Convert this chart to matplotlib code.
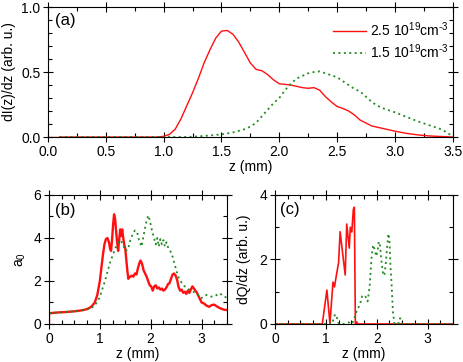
import numpy as np
import matplotlib.pyplot as plt
from matplotlib.ticker import MultipleLocator

plt.rcParams['font.family'] = ['Liberation Sans', 'DejaVu Sans']
plt.rcParams['font.size'] = 10
plt.rcParams['mathtext.default'] = 'regular'

RED = '#ff1010'
GREEN = '#228b22'

# panel (a): dI(z)/dz for the two densities
za_red = [0.1, 0.95, 1.0, 1.05, 1.1, 1.15, 1.2, 1.25, 1.3, 1.35,
          1.4, 1.45, 1.5, 1.55, 1.6, 1.65, 1.7, 1.75, 1.8, 1.85,
          1.9, 1.95, 2.0, 2.1, 2.2, 2.25, 2.3, 2.35, 2.4, 2.45,
          2.5, 2.55, 2.6, 2.65, 2.7, 2.8, 2.9, 3.0, 3.1, 3.2,
          3.3, 3.4, 3.5]
Ia_red = [0, 0, 0.005, 0.02, 0.06, 0.14, 0.24, 0.34, 0.45, 0.57,
          0.67, 0.76, 0.815, 0.82, 0.79, 0.73, 0.65, 0.57, 0.52, 0.51,
          0.48, 0.44, 0.41, 0.4, 0.38, 0.375, 0.38, 0.36, 0.31, 0.27,
          0.235, 0.22, 0.2, 0.17, 0.13, 0.085, 0.065, 0.045, 0.028, 0.016,
          0.008, 0.004, 0.0]

za_green = [0.1, 1.2, 1.3, 1.4, 1.5, 1.6, 1.7, 1.75, 1.8, 1.85,
            1.9, 1.95, 2.0, 2.05, 2.1, 2.15, 2.2, 2.25, 2.3, 2.35,
            2.4, 2.45, 2.5, 2.55, 2.6, 2.65, 2.7, 2.75, 2.8, 2.85,
            2.9, 3.0, 3.1, 3.2, 3.3, 3.4, 3.45, 3.5]
Ia_green = [0, 0, 0.005, 0.012, 0.02, 0.035, 0.06, 0.08, 0.11, 0.16,
            0.21, 0.26, 0.3, 0.36, 0.41, 0.45, 0.47, 0.49, 0.5, 0.505,
            0.49, 0.475, 0.46, 0.43, 0.4, 0.37, 0.35, 0.31, 0.27, 0.24,
            0.22, 0.19, 0.155, 0.12, 0.09, 0.06, 0.035, 0.005]

# panel (b): a0 along z
zb_red = [0, 0, 0.1, 0.2, 0.3, 0.4, 0.5, 0.6, 0.7, 0.75,
          0.8, 0.85, 0.9, 0.95, 1.0, 1.03, 1.06, 1.09, 1.12, 1.15,
          1.18, 1.2, 1.22, 1.24, 1.26, 1.28, 1.30, 1.32, 1.34, 1.36,
          1.38, 1.40, 1.42, 1.44, 1.46, 1.48, 1.50, 1.52, 1.54, 1.56,
          1.58, 1.60, 1.63, 1.66, 1.69, 1.72, 1.75, 1.78, 1.80, 1.83,
          1.86, 1.89, 1.92, 1.95, 1.98, 2.01, 2.04, 2.07, 2.10, 2.13,
          2.16, 2.19, 2.22, 2.25, 2.28, 2.31, 2.34, 2.37, 2.40, 2.43,
          2.46, 2.49, 2.52, 2.55, 2.58, 2.61, 2.64, 2.67, 2.70, 2.73,
          2.76, 2.79, 2.82, 2.85, 2.88, 2.91, 2.94, 2.97, 3.00, 3.05,
          3.10, 3.15, 3.20, 3.25, 3.30, 3.35, 3.40, 3.45, 3.50]
a0_red = [0, 0.5, 0.52, 0.54, 0.55, 0.57, 0.59, 0.62, 0.66, 0.70,
          0.75, 0.85, 1.0, 1.35, 2.0, 2.6, 3.2, 3.7, 3.95, 4.0,
          3.8, 3.5, 3.4, 3.9, 4.6, 5.1, 4.9, 4.3, 3.8, 3.4,
          3.9, 4.4, 4.1, 4.4, 4.0, 3.7, 3.5, 3.0, 2.5, 2.1,
          2.2, 2.2, 2.25, 2.2, 2.35, 2.3, 2.6, 2.85, 2.95, 2.8,
          2.5, 2.35, 2.2, 2.0, 1.8, 1.75, 1.55, 1.75, 1.8, 1.65,
          1.7, 1.6, 1.65, 1.55, 1.6, 1.7, 1.85, 1.9, 2.1, 2.3,
          2.35, 2.25, 2.05, 1.7, 1.55, 1.6, 1.45, 1.5, 1.4, 1.55,
          1.45, 1.6, 1.75, 1.65, 1.55, 1.45, 1.3, 1.15, 1.0, 0.95,
          0.85, 0.8, 0.88, 0.9, 0.82, 0.75, 0.7, 0.66, 0.65]

zb_green = [0, 0.1, 0.2, 0.3, 0.4, 0.5, 0.6, 0.7, 0.8, 0.9,
            1.0, 1.1, 1.2, 1.3, 1.35, 1.4, 1.45, 1.5, 1.55, 1.6,
            1.65, 1.69, 1.73, 1.77, 1.82, 1.86, 1.9, 1.95, 1.98, 2.02,
            2.06, 2.1, 2.13, 2.16, 2.19, 2.22, 2.25, 2.28, 2.31, 2.35,
            2.41, 2.48, 2.54, 2.6, 2.64, 2.7, 2.77, 2.84, 2.9, 2.95,
            2.99, 3.05, 3.1, 3.16, 3.23, 3.3, 3.36, 3.42, 3.46, 3.5]
a0_green = [0.5, 0.52, 0.54, 0.55, 0.57, 0.59, 0.62, 0.65, 0.7, 0.85,
            1.25, 2.0, 2.85, 3.5, 3.75, 3.9, 3.75, 3.4, 3.45, 3.9,
            4.2, 4.35, 4.3, 3.9, 3.6, 4.1, 4.6, 5.05, 4.85, 4.4,
            4.05, 3.7, 4.0, 3.6, 3.95, 3.7, 3.9, 3.6, 3.8, 3.5,
            3.3, 2.7, 2.2, 1.95, 1.8, 1.7, 1.58, 1.5, 1.43, 1.3,
            1.19, 1.3, 1.35, 1.28, 1.27, 1.35, 1.43, 1.3, 1.27, 1.2]

# panel (c): dQ/dz
zc_red = [0, 0.93, 1.02, 1.08, 1.14, 1.17, 1.2, 1.25, 1.28, 1.38,
          1.41, 1.46, 1.48, 1.51, 1.54, 1.56, 1.58, 1.61, 1.63, 1.65,
          3.5]
Q_red = [0, 0, 1.05, 0.02, 1.3, 1.15, 1.45, 1.9, 2.86, 1.52,
         3.1, 2.35, 3.0, 2.85, 3.55, 3.62, 0, 0.06, 0, 0,
         0]

zc_green = [0, 1.12, 1.15, 1.18, 1.21, 1.24, 1.27, 1.35, 1.45, 1.5,
            1.55, 1.58, 1.62, 1.67, 1.71, 1.74, 1.78, 1.82, 1.86, 1.9,
            1.93, 1.96, 1.99, 2.02, 2.04, 2.06, 2.09, 2.12, 2.15, 2.18,
            2.21, 2.23, 2.25, 2.27, 2.29, 2.32, 2.35, 2.42, 2.46, 2.5,
            3.5]
Q_green = [0, 0, 0.15, 0.3, 0.25, 0.05, 0, 0, 0.05, 0,
           0.1, 0.3, 0.45, 0.6, 0.85, 0.9, 0.85, 0.7, 1.15, 2.1,
           2.45, 2.3, 2.1, 2.3, 2.55, 2.5, 2.0, 1.6, 1.5, 1.9,
           2.5, 2.8, 2.6, 1.8, 1.3, 0.35, 0, 0, 0.18, 0,
           0]

# hyphen instead of the wide mathtext minus, as in the original
labels = ['2.5 10$^{19}$cm$^{\u2010 3}$', '1.5 10$^{19}$cm$^{\u2010 3}$']


def style(ax, xmaj, xmin, ymaj, ymin):
    # ticks on all four sides, majors crossing the frame
    ax.xaxis.set_major_locator(MultipleLocator(xmaj))
    ax.xaxis.set_minor_locator(MultipleLocator(xmin))
    ax.yaxis.set_major_locator(MultipleLocator(ymaj))
    ax.yaxis.set_minor_locator(MultipleLocator(ymin))
    ax.tick_params(which='major', direction='inout', length=7, width=0.8,
                   top=True, right=True, labelsize=10, pad=2)
    ax.tick_params(which='minor', direction='in', length=3, width=0.8,
                   top=True, right=True)


fig = plt.figure(figsize=(4.63, 3.62), dpi=100)

ax1 = fig.add_axes((0.1037, 0.6215, 0.874, 0.359))
ax1.plot(za_red, Ia_red, color=RED, lw=1.0, label=labels[0])
ax1.plot([0, 0.1], [0, 0], color=RED, lw=1.0)
ax1.plot(za_green, Ia_green, color=GREEN, lw=1.3, ls=(0, (1.1, 1.9)),
         label=labels[1])
ax1.set_xlim(0, 3.5)
ax1.set_ylim(0, 1.0)
style(ax1, 0.5, 0.25, 0.5, 0.1)
ax1.xaxis.set_major_formatter('{x:.1f}')
ax1.yaxis.set_major_formatter('{x:.1f}')
ax1.set_xlabel('z (mm)', labelpad=1)
ax1.set_ylabel('dI(z)/dz (arb. u.)', labelpad=4)
ax1.text(0.017, 0.9, '(a)', transform=ax1.transAxes, fontsize=12, va='center')
ax1.legend(loc='upper right', frameon=False, fontsize=10, handlelength=2.4,
           handletextpad=0.3, borderaxespad=0.3, labelspacing=0.25,
           bbox_to_anchor=(1.015, 0.97))

ax2 = fig.add_axes((0.1058, 0.105, 0.3844, 0.3564))
ax2.plot(zb_red, a0_red, color=RED, lw=1.7)
ax2.plot(zb_green, a0_green, color=GREEN, lw=1.3, ls=(0, (1.1, 1.9)))
ax2.set_xlim(0, 3.5)
ax2.set_ylim(0, 6)
style(ax2, 1, 0.25, 2, 1)
ax2.set_xlabel('z (mm)', labelpad=1)
ax2.set_ylabel('a$_0$', labelpad=4)
ax2.text(0.034, 0.876, '(b)', transform=ax2.transAxes, fontsize=12, va='center')

ax3 = fig.add_axes((0.594, 0.105, 0.3844, 0.3564))
ax3.plot(zc_red, Q_red, color=RED, lw=1.2)
ax3.plot(zc_green, Q_green, color=GREEN, lw=1.3, ls=(0, (1.1, 1.9)))
ax3.set_xlim(0, 3.5)
ax3.set_ylim(0, 4)
style(ax3, 1, 0.25, 2, 1)
ax3.set_xlabel('z (mm)', labelpad=1)
ax3.set_ylabel('dQ/dz (arb. u.)', labelpad=6)
ax3.text(0.028, 0.89, '(c)', transform=ax3.transAxes, fontsize=12, va='center')

fig.savefig('out.png', dpi=100)
